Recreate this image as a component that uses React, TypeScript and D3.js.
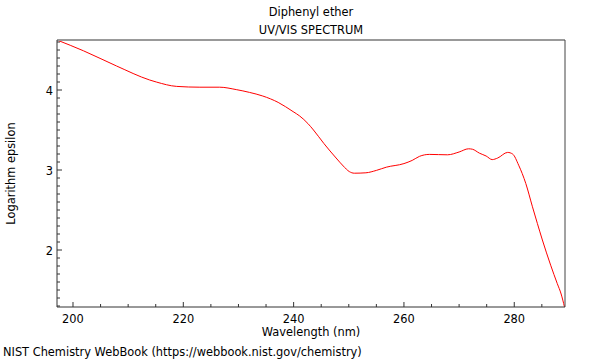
import React from "react";
import * as d3 from "d3";

const wavelengths = [197.1, 201.9, 207.9, 213.9, 215.1, 218.8, 223.0, 226.6, 229.6, 232.0, 234.4, 237.2, 239.9, 241.1, 242.6, 243.6, 245.5, 247.7, 249.0, 250.1, 251.0, 253.1, 255.0, 256.8, 260.0, 261.5, 262.8, 264.6, 267.9, 270.0, 271.7, 272.4, 273.7, 274.9, 276.0, 277.0, 278.8, 279.7, 280.8, 282.1, 283.3, 284.2, 285.1, 286.6, 287.8, 288.5, 289.1];
const logEpsilon = [4.625, 4.49, 4.30, 4.125, 4.10, 4.045, 4.035, 4.035, 4.005, 3.97, 3.925, 3.845, 3.73, 3.675, 3.58, 3.5, 3.33, 3.15, 3.05, 2.98, 2.96, 2.965, 2.995, 3.035, 3.08, 3.12, 3.17, 3.195, 3.19, 3.225, 3.265, 3.26, 3.21, 3.175, 3.13, 3.15, 3.22, 3.2, 3.06, 2.83, 2.54, 2.33, 2.125, 1.81, 1.58, 1.45, 1.29];

const xMajorTicks = [200, 220, 240, 260, 280];
const yMajorTicks = [2, 3, 4];

const titleLines = ["Diphenyl ether", "UV/VIS SPECTRUM"];
const xLabel = "Wavelength (nm)";
const yLabel = "Logarithm epsilon";
const footer = "NIST Chemistry WebBook (https://webbook.nist.gov/chemistry)";

export default function App() {
  const W = 600, H = 360;
  const left = 57, right = 565, top = 40, bottom = 307;
  const x = d3.scaleLinear().domain([197.1, 289.2]).range([left, right]);
  const y = d3.scaleLinear().domain([1.2875, 4.625]).range([bottom, top]);

  const xMinor = d3.range(200, 289.3, 5);
  const yMinor = d3.range(13, 47).map((v) => v / 10);

  const pts = wavelengths.map((w, i) => [w, logEpsilon[i]] as [number, number]);
  const line = d3
    .line<[number, number]>()
    .x((d) => x(d[0]))
    .y((d) => y(d[1]))
    .curve(d3.curveMonotoneX);

  const font = "DejaVu Sans, sans-serif";
  const fs = 11.4;
  const cx = (left + right) / 2;

  return (
    <svg width={W} height={H} style={{ position: "absolute", left: 0, top: 0 }} fontFamily={font}>
      <rect width={W} height={H} fill="#fff" />
      <text x={cx} y={16} fontSize={fs} textAnchor="middle" fill="#000">{titleLines[0]}</text>
      <text x={cx} y={34} fontSize={fs} textAnchor="middle" fill="#000">{titleLines[1]}</text>

      <defs>
        <clipPath id="plot">
          <rect x={left} y={top} width={right - left} height={bottom - top} />
        </clipPath>
      </defs>

      {xMinor.map((t) => (
        <line key={"xm" + t} x1={x(t)} x2={x(t)} y1={bottom} y2={bottom - (t % 20 === 0 ? 5 : 3)} stroke="#333" strokeWidth={1} />
      ))}
      {yMinor.map((t) => (
        <line key={"ym" + t} x1={left} x2={left + (Math.abs(t - Math.round(t)) < 1e-6 ? 5 : 3)} y1={y(t)} y2={y(t)} stroke="#333" strokeWidth={1} />
      ))}

      {xMajorTicks.map((t) => (
        <text key={"xl" + t} x={x(t)} y={323} fontSize={fs} textAnchor="middle" fill="#000">{t}</text>
      ))}
      {yMajorTicks.map((t) => (
        <text key={"yl" + t} x={53} y={y(t) + 4.5} fontSize={fs} textAnchor="end" fill="#000">{t}</text>
      ))}

      <path d={line(pts) || ""} fill="none" stroke="#ff0000" strokeWidth={1} clipPath="url(#plot)" />

      <line x1={left} x2={right} y1={top} y2={top} stroke="#999" strokeWidth={2} />
      <line x1={right} x2={right} y1={top} y2={bottom} stroke="#444" strokeWidth={1} />
      <line x1={left} x2={left} y1={top} y2={bottom} stroke="#333" strokeWidth={1} />
      <line x1={left} x2={right} y1={bottom} y2={bottom} stroke="#333" strokeWidth={1} />

      <text x={cx} y={336} fontSize={fs} textAnchor="middle" fill="#000">{xLabel}</text>
      <text transform={`translate(15,${(top + bottom) / 2}) rotate(-90)`} fontSize={fs} textAnchor="middle" fill="#000">{yLabel}</text>
      <text x={3} y={356} fontSize={fs} fill="#000">{footer}</text>
    </svg>
  );
}
